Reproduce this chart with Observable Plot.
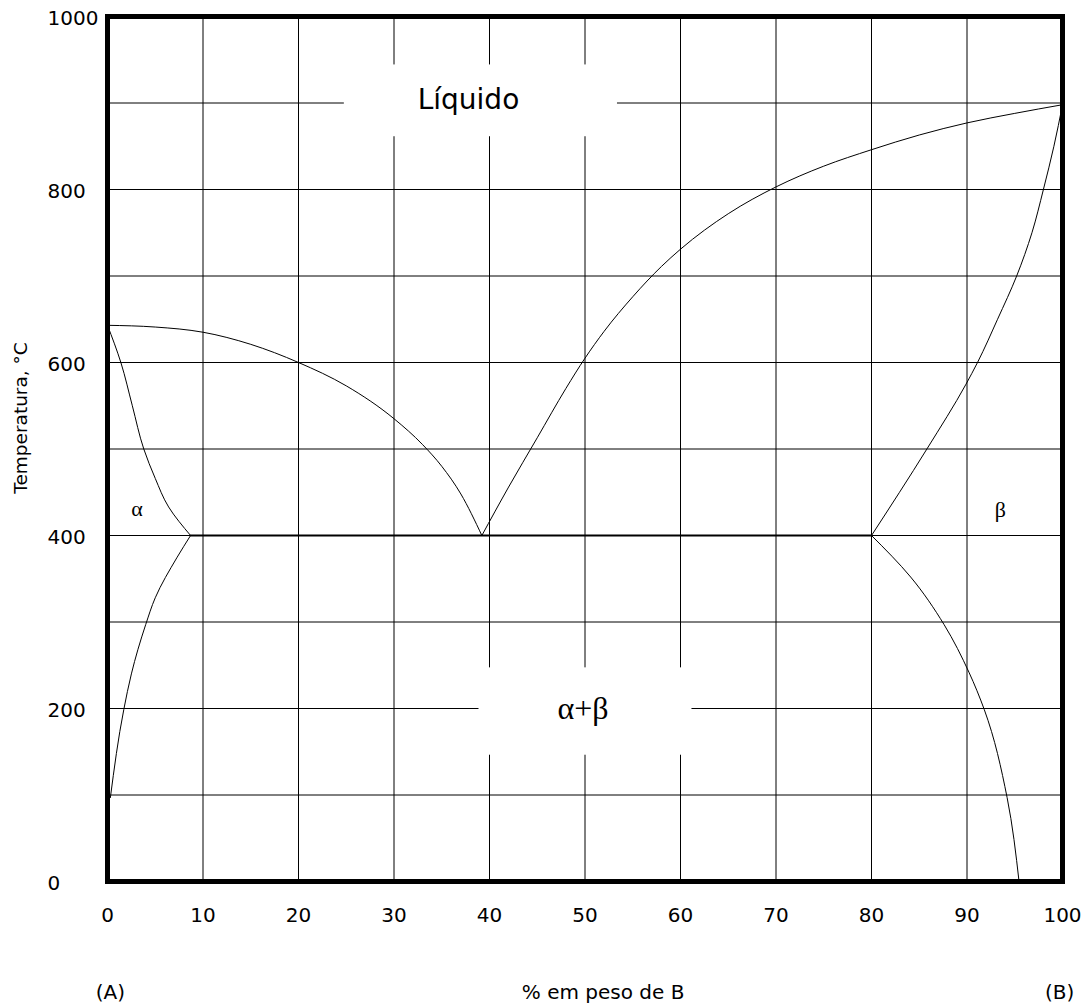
<!DOCTYPE html>
<html><head><meta charset="utf-8">
<script src="https://cdn.jsdelivr.net/npm/d3@7"></script>
<script src="https://cdn.jsdelivr.net/npm/@observablehq/plot@0.6"></script>
<style>body{margin:0;background:#fff}</style>
</head><body><div id="chart"></div>
<script>
// Tick values
const xTicks = [0, 10, 20, 30, 40, 50, 60, 70, 80, 90, 100];
const yTicks = [0, 200, 400, 600, 800, 1000];
const xGrid = [10, 20, 30, 40, 50, 60, 70, 80, 90];
const yGrid = [100, 200, 300, 400, 500, 600, 700, 800, 900];

// Phase boundaries: [wt% B, temperature °C]
const liquidusA = [[0, 643], [5, 641], [10, 635], [15, 621], [20, 600], [25, 573], [30, 535], [33, 505], [35, 480], [37, 448], [39.2, 400]];
const liquidusB = [[39.2, 400], [42, 456], [45, 513], [48, 570], [50, 605], [52, 636], [55, 676], [58, 711], [60, 731], [65, 772], [70, 803], [75, 827], [80, 846], [85, 863], [90, 877], [95, 888], [100, 898]];
const solidusA = [[0, 643], [1.4, 600], [2.6, 550], [3.8, 500], [5.0, 466], [6.4, 433], [8.7, 400]];
const solvusA = [[8.7, 400], [7.3, 375], [5.0, 328], [4.0, 297], [2.5, 240], [1.71, 199], [0.3, 97]];
const solidusB = [[80.0, 400], [85.8, 500], [89.9, 575], [91.1, 600], [93.2, 650], [95.2, 700], [96.8, 750], [98.0, 800], [99.1, 850], [100, 898]];
const solvusB = [[80.0, 400], [84.1, 352], [87.6, 297], [90.2, 242], [91.8, 199], [94.2, 97], [95.45, 0]];
const eutectic = [[8.7, 400], [80.0, 400]];

// Region labels
const regionBoxes = [
  {x1: 24.8, x2: 53.4, y1: 861, y2: 944},
  {x1: 38.9, x2: 61.2, y1: 146, y2: 247}
];
const bigLabels = [{text: "Líquido", x: 37.8, y: 903}];
const greekBig = [{text: "α+β", x: 49.8, y: 200}];
const greekSmall = [{text: "α", x: 3.1, y: 431}, {text: "β", x: 93.5, y: 430}];
const bottomLabels = [{text: "(A)", x: 0.3}, {text: "% em peso de B", x: 51.9}, {text: "(B)", x: 99.7}];

const serif = "'Liberation Serif', 'Times New Roman', serif";
const lineX = (data) => Plot.line(data, {x: d => d[0], y: d => d[1], curve: "monotone-x", stroke: "black", strokeWidth: 1});
const lineY = (data) => Plot.line(data, {x: d => d[0], y: d => d[1], curve: "monotone-y", stroke: "black", strokeWidth: 1});

const chart = Plot.plot({
  width: 1091,
  height: 1008,
  marginLeft: 107,
  marginRight: 29,
  marginTop: 16,
  marginBottom: 127,
  x: {domain: [0, 100], axis: null},
  y: {domain: [0, 1000], axis: null},
  style: {fontFamily: "'DejaVu Sans', sans-serif", background: "white", color: "black"},
  marks: [
    Plot.ruleX(xGrid, {stroke: "black", strokeWidth: 1}),
    Plot.ruleY(yGrid, {stroke: "black", strokeWidth: 1}),
    Plot.rect(regionBoxes, {x1: "x1", x2: "x2", y1: "y1", y2: "y2", fill: "white"}),
    Plot.line(eutectic, {x: d => d[0], y: d => d[1], stroke: "black", strokeWidth: 2}),
    lineX(liquidusA), lineX(liquidusB), lineY(solidusA), lineY(solvusA), lineY(solidusB), lineY(solvusB),
    Plot.frame({stroke: "black", strokeWidth: 5}),
    Plot.text(bigLabels, {x: "x", y: "y", text: "text", fontSize: 28}),
    Plot.text(greekBig, {x: "x", y: "y", text: "text", fontSize: 32, fontFamily: serif}),
    Plot.text(greekSmall, {x: "x", y: "y", text: "text", fontSize: 22, fontFamily: serif}),
    Plot.text(yTicks, {y: d => d, text: d => String(d), frameAnchor: "left", textAnchor: "start", dx: -60, dy: 2, fontSize: 20}),
    Plot.text(xTicks, {x: d => d, text: d => String(d), frameAnchor: "bottom", dy: 40, fontSize: 20}),
    Plot.text(bottomLabels, {x: "x", text: "text", frameAnchor: "bottom", dy: 117, fontSize: 20}),
    Plot.text(["Temperatura, °C"], {text: d => d, frameAnchor: "left", textAnchor: "middle", rotate: -90, dx: -86, dy: -31, fontSize: 18.5})
  ]
});
document.getElementById("chart").appendChild(chart);
</script>
</body></html>
